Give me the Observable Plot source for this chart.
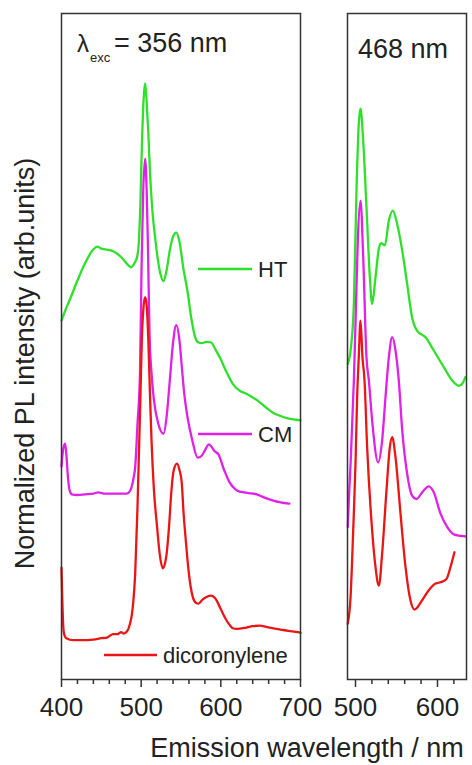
<!DOCTYPE html>
<html>
<head>
<meta charset="utf-8">
<script src="https://cdn.jsdelivr.net/npm/d3@7"></script>
<script src="https://cdn.jsdelivr.net/npm/@observablehq/plot@0.6"></script>
<style>
  html, body { margin: 0; padding: 0; background: #fff; }
  #wrap { position: relative; width: 472px; height: 765px; overflow: hidden; font-family: "Liberation Sans", Arial, Helvetica, sans-serif; color: #222; }
  #left, #right { position: absolute; top: 0; }
  #left { left: 0; }
  #right { left: 320px; }
  #xtitle { position: absolute; top: 733px; left: 0; width: 614px; text-align: center; font-size: 27px; line-height: 30px; white-space: nowrap; }
</style>
</head>
<body>
<div id="wrap">
  <div id="left"></div>
  <div id="right"></div>
  <div id="xtitle">Emission wavelength / nm</div>
</div>
<script>
// ---- data: [wavelength nm, normalized intensity incl. vertical offset] ----
const ht356 = [[400,53.9],[405,55.5],[410,56.9],[420,59.9],[430,62.6],[440,64.6],[445,65.0],[450,64.7],[455,64.6],[465,64.3],[475,63.4],[483,62.3],[487,61.9],[492,62.6],[495,63.5],[497,65.5],[499,71.4],[501,80.5],[503,87],[505,89.5],[507,86.5],[509,82],[511,76.4],[514,70.5],[517.5,66.4],[521,63],[524,61],[528,59.8],[532,61.5],[536,64.5],[540,66.5],[544,67.1],[548,65.8],[553,61.7],[558,58.4],[563,54.2],[568,51.3],[572,50.6],[576,50.5],[582,50.7],[588,50.6],[593,49.6],[599,48.3],[607,46.2],[615,44.4],[623,43.4],[632,42.9],[638,42.5],[647,41.8],[657,40.8],[665,40.1],[674,39.6],[684,39.2],[695,39.0],[700,38.9]];
const cm356 = [[400,32],[402,34.5],[404.5,35.4],[406,34],[408,30.5],[410,28.5],[413,27.8],[420,27.7],[430,27.8],[440,27.9],[446,28.1],[455,27.9],[465,27.9],[475,27.9],[482,27.9],[486,28.3],[488,28.9],[490.5,30.3],[492.5,31.9],[495.4,38.4],[498.5,45.9],[500.5,62],[502.5,73],[505,78.2],[507,73],[508.5,65],[510.5,52],[513,46],[516,42],[521.5,38.4],[528,36.9],[532,39.5],[536,45],[540,50.5],[544,53.2],[548,51],[551,47],[554,43],[558,39.5],[564,36],[571,33.3],[576,33.6],[580,34.4],[585,35.3],[588,35],[592,34.3],[597,33.8],[604,31.5],[611,29.6],[618,28.6],[624,28.2],[635,28.0],[645,27.8],[655,27.3],[665,26.9],[675,26.6],[686,26.4]];
const dic356 = [[400,16.8],[401,12],[402,8.5],[403,7],[406,6.2],[415,5.9],[424,5.9],[440,6.0],[450,6.2],[457,6.3],[465,6.8],[470,6.8],[475,7.1],[478,6.9],[482,7.2],[484,7.6],[486,8.4],[488,9.5],[490,11.5],[492.5,15.9],[495.4,25.9],[498.75,40.9],[500.8,50.9],[503,56],[505,57.4],[507,56],[509,50.9],[511,43],[513,35.9],[516,28.5],[519.6,23.4],[523.75,18.4],[527,16.7],[530,17.5],[532,18.9],[535,23],[538,28.4],[541,31.5],[545,32.4],[548,31.5],[551,29.5],[553,25.4],[556,20.9],[559,16.9],[562,14],[565,12.3],[569,11.5],[572,11.4],[577,12],[582,12.4],[588,12.6],[592,12.3],[595,11.8],[599,10.8],[603,9.8],[607,8.9],[611,8.2],[615,7.7],[620,7.6],[632,7.8],[640,8.0],[649,8.1],[657,7.9],[665,7.7],[675,7.5],[685,7.3],[697,7.1],[700,7.0]];

const ht468 = [[490.6,47.4],[494,49.4],[498,56.4],[501.2,73.4],[504,83.4],[506.1,85.7],[509.4,80.9],[513.4,70.9],[517.5,60.4],[520.3,56.4],[524.4,60.4],[528.5,64.7],[531.3,65.5],[535.8,65.2],[540.7,68.9],[545.5,70.4],[550.8,68.4],[557,64.4],[563,59.4],[569,54.4],[575,52.4],[585.4,51.4],[595.5,49.4],[607.7,46.9],[617.9,44.9],[626,44.1],[631.3,44.6],[634,45.4]];
const cm468 = [[490.6,22.9],[491.5,25.9],[494,32.4],[498,44.9],[500,53.4],[502.8,65.9],[506.1,71.9],[509.4,63.4],[513.4,48.4],[516.3,44.9],[520.3,38.9],[527.6,32.6],[532.5,35.9],[536.6,42.4],[540.7,48.4],[544.7,51.4],[548.8,49.4],[552.8,44.9],[557,37.4],[563,30.9],[569.1,27.6],[574.4,27.1],[581.3,28.1],[589.4,29.0],[595.5,28.1],[603.7,24.9],[611.8,22.9],[619.9,21.8],[634,21.5]];
const dic468 = [[490.6,8.4],[494,12.4],[497.2,22.4],[500,32.4],[502,42.4],[504,48.4],[506.1,53.9],[508.5,48.4],[511,44.9],[514.2,34.9],[520.3,22.4],[524.4,16.9],[528.5,14.1],[532.5,18.9],[537.8,28.4],[541.9,34.9],[544.7,36.4],[548.8,33.4],[554.9,24.9],[561,16.9],[567,11.9],[572,10.5],[581.3,11.9],[589.4,13.4],[597.6,14.4],[603.7,14.6],[611,15.1],[615.9,16.9],[620.7,19.1]];

const seriesNames = ["HT", "CM", "dicoronylene"];
const seriesColors = ["#2ee02a", "#e021e6", "#ea1515"];
const majorLeft = [400, 500, 600, 700];
const minorLeft = [420, 440, 460, 480, 520, 540, 560, 580, 620, 640, 660, 680];
const majorRight = [500, 600];
const minorRight = [520, 540, 560, 580, 620];
const yLabel = "Normalized PL intensity (arb.units)";
const xLabel = "Emission wavelength / nm";
const excLeft = ["λ", "exc", "= 356 nm"];
const excRight = "468 nm";

// ---- drawing ----
const fontFamily = '"Liberation Sans", Arial, Helvetica, sans-serif';
const frameColor = "#333";
const lineOpts = (i) => ({x: d => d[0], y: d => d[1], stroke: seriesColors[i], strokeWidth: 2.3, curve: "monotone-x"});

function overlay(draw) {
  return (index, scales, values, dimensions) => {
    const g = d3.create("svg:g").attr("font-family", fontFamily).attr("fill", "#222").attr("text-anchor", "start");
    const ml = dimensions && dimensions.marginLeft != null ? dimensions.marginLeft : 0;
    const mt = dimensions && dimensions.marginTop != null ? dimensions.marginTop : 0;
    draw(g, ml, mt);
    return g.node();
  };
}

const leftOverlay = overlay((g, ml, mt) => {
  // excitation annotation
  g.append("text").attr("x", ml + 16).attr("y", mt + 39).attr("font-size", 24).text(excLeft[0]);
  g.append("text").attr("x", ml + 29).attr("y", mt + 49).attr("font-size", 13).text(excLeft[1]);
  g.append("text").attr("x", ml + 53).attr("y", mt + 39).attr("font-size", 27).text(excLeft[2]);
  // legend
  const leg = [
    {i: 0, x1: 137, x2: 191, y: 256},
    {i: 1, x1: 137, x2: 191, y: 421},
    {i: 2, x1: 43, x2: 96, y: 642}
  ];
  for (const l of leg) {
    g.append("line").attr("x1", ml + l.x1).attr("x2", ml + l.x2).attr("y1", mt + l.y).attr("y2", mt + l.y)
      .attr("stroke", seriesColors[l.i]).attr("stroke-width", 2.3);
    g.append("text").attr("x", ml + l.x2 + 6).attr("y", mt + l.y).attr("dy", "0.36em")
      .attr("font-size", 22).text(seriesNames[l.i]);
  }
});

const rightOverlay = overlay((g, ml, mt) => {
  g.append("text").attr("x", ml + 11).attr("y", mt + 45).attr("font-size", 27).text(excRight);
});

const common = {
  height: 730, marginTop: 13, marginBottom: 51,
  y: {domain: [0, 100], axis: null},
  style: {fontFamily, color: "#222", background: "transparent", overflow: "visible"}
};

const left = Plot.plot({
  ...common,
  width: 330, marginLeft: 61, marginRight: 30,
  x: {domain: [400, 700]},
  marks: [
    Plot.line(ht356, lineOpts(0)),
    Plot.line(cm356, lineOpts(1)),
    Plot.line(dic356, lineOpts(2)),
    Plot.axisX(minorLeft, {tickSize: 5, tickFormat: () => "", stroke: frameColor, strokeWidth: 1.5, label: null}),
    Plot.axisX(majorLeft, {tickSize: 8, tickPadding: 10, fontSize: 26, stroke: frameColor, strokeWidth: 1.5, label: null}),
    Plot.frame({stroke: frameColor, strokeWidth: 1.5}),
    Plot.text([yLabel], {text: d => d, frameAnchor: "left", textAnchor: "middle", rotate: -90, dx: -36, dy: 17, fontSize: 27}),
    leftOverlay
  ]
});

const right = Plot.plot({
  ...common,
  width: 152, marginLeft: 27, marginRight: 6,
  x: {domain: [490.24, 635.4]},
  marks: [
    Plot.line(ht468, lineOpts(0)),
    Plot.line(cm468, lineOpts(1)),
    Plot.line(dic468, lineOpts(2)),
    Plot.axisX(minorRight, {tickSize: 5, tickFormat: () => "", stroke: frameColor, strokeWidth: 1.5, label: null}),
    Plot.axisX(majorRight, {tickSize: 8, tickPadding: 10, fontSize: 26, stroke: frameColor, strokeWidth: 1.5, label: null}),
    Plot.frame({stroke: frameColor, strokeWidth: 1.5}),
    rightOverlay
  ]
});

document.getElementById("left").appendChild(left);
document.getElementById("right").appendChild(right);
document.getElementById("xtitle").textContent = xLabel;
</script>
</body>
</html>
